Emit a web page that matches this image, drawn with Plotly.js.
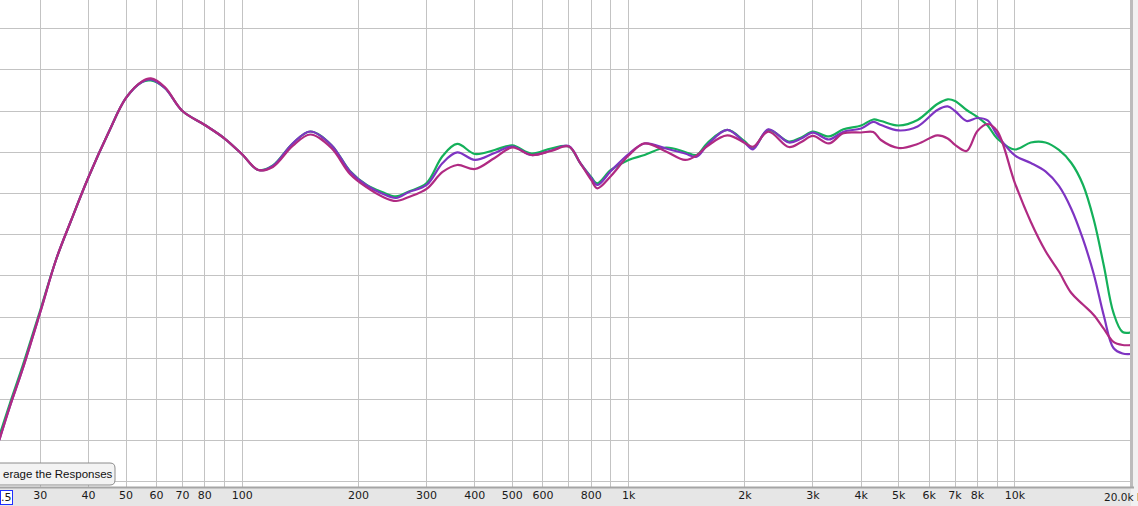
<!DOCTYPE html>
<html>
<head>
<meta charset="utf-8">
<script src="https://cdn.plot.ly/plotly-3.0.1.min.js"></script>
<style>
  html, body { margin: 0; padding: 0; background: #e6e6e6; }
  #chart { width: 1138px; height: 506px; }
</style>
</head>
<body>
<div id="chart"></div>
<script>
// Frequencies (Hz) shared by the three measured responses
const freqHz = [23.5, 25, 27, 30, 33, 36, 40, 45, 50, 55, 58, 63, 70, 80, 90, 100, 110, 120, 135, 150,
  170, 190, 210, 230, 250, 270, 300, 330, 360, 400, 450, 500, 560, 630, 700, 750, 800, 830, 900,
  1000, 1100, 1250, 1400, 1500, 1600, 1800, 2000, 2100, 2300, 2600, 2800, 3000, 3300, 3600, 4000,
  4300, 4500, 5000, 5600, 6300, 6700, 7000, 7500, 8000, 8500, 9000, 10000, 11000, 12000, 13000,
  14000, 15000, 16000, 17000, 18000, 19000, 20000];

// SPL (dB)
const greenSPL = [45.57, 49.45, 54.07, 60.86, 67.05, 71.66, 77.00, 82.34, 86.59, 88.53, 88.71, 87.80, 85.01, 83.31, 81.67, 79.73, 77.85, 78.40, 81.07, 82.52,
  80.89, 77.73, 76.03, 75.18, 74.64, 75.24, 76.27, 79.55, 81.01, 79.79, 80.28, 80.83, 79.85, 80.46, 80.70, 78.67, 77.00, 76.24, 77.85,
  79.07, 79.67, 80.58, 80.04, 79.67, 81.13, 82.71, 81.31, 80.49, 82.71, 81.31, 81.80, 82.52, 81.92, 82.79, 83.25,
  83.98, 83.80, 83.25, 83.92, 85.86, 86.43, 86.23, 85.13, 84.28, 83.25, 81.67, 80.34, 81.19, 81.19, 80.28,
  78.70, 76.09, 71.84, 66.20, 60.50, 58.19, 58.16];

const purpleSPL = [45.08, 49.09, 53.70, 60.62, 67.05, 71.66, 77.00, 82.34, 86.59, 88.53, 88.83, 87.80, 85.01, 83.31, 81.67, 79.73, 77.85, 78.34, 81.07, 82.52,
  80.89, 77.67, 75.97, 75.00, 74.45, 75.18, 76.03, 78.70, 79.98, 79.07, 79.92, 80.70, 79.67, 80.22, 80.76, 78.67, 76.88, 76.03, 77.73,
  79.79, 81.07, 80.46, 79.85, 79.47, 80.89, 82.71, 81.13, 80.36, 82.79, 81.19, 81.67, 82.38, 81.55, 82.50, 82.89,
  83.68, 83.31, 82.65, 83.13, 85.13, 85.56, 85.01, 83.80, 84.16, 83.86, 82.10, 79.61, 78.70, 77.67, 75.91,
  73.12, 69.48, 65.23, 60.13, 56.25, 55.58, 55.52];

const magentaSPL = [45.08, 49.09, 53.70, 60.62, 67.05, 71.66, 77.00, 82.34, 86.59, 88.60, 88.96, 87.92, 85.01, 83.31, 81.67, 79.73, 77.85, 78.22, 80.76, 82.16,
  80.52, 77.37, 75.73, 74.64, 74.09, 74.58, 75.55, 77.61, 78.46, 77.97, 79.31, 80.58, 79.67, 80.16, 80.70, 78.67, 76.64, 75.63, 77.12,
  79.61, 81.07, 80.10, 79.07, 79.61, 80.76, 82.04, 81.13, 80.68, 82.50, 80.64, 81.25, 81.98, 81.07, 82.31, 82.40,
  82.46, 81.49, 80.52, 81.01, 82.04, 81.67, 80.89, 80.16, 82.58, 83.43, 82.58, 76.27, 71.54, 68.02, 65.53,
  62.92, 61.53, 60.26, 58.56, 56.98, 56.61, 56.61];

// Frequency grid lines and their labels
const gridFreqs = [30, 40, 50, 60, 70, 80, 90, 100, 200, 300, 400, 500, 600, 700, 800, 900,
  1000, 2000, 3000, 4000, 5000, 6000, 7000, 8000, 9000, 10000, 20000];
const gridLabels = ['30', '40', '50', '60', '70', '80', '', '100', '200', '300', '400', '500', '600', '', '800', '',
  '1k', '2k', '3k', '4k', '5k', '6k', '7k', '8k', '', '10k', ''];

const seriesColors = ['#14b05a', '#7e34c2', '#b02a82'];
const seriesData = [greenSPL, purpleSPL, magentaSPL];

const traces = seriesData.map((vals, i) => ({
  type: 'scatter',
  mode: 'lines',
  x: freqHz,
  y: vals,
  line: { color: seriesColors[i], width: 2.2, shape: 'spline', smoothing: 1 },
  hoverinfo: 'skip'
}));

const W = 1138, H = 506, L = 0, R = 7, T = 0, B = 19;
const pw = W - L - R, ph = H - T - B;
const px = v => v / pw;              // pixel -> paper x
const py = v => (ph - v) / ph;       // pixel (from top) -> paper y

const bx0 = -0.02, bx1 = px(115), by0 = py(485), by1 = py(463), rx = px(5), ry = 5 / ph;
const buttonPath = `M ${bx0},${by1} L ${bx1 - rx},${by1} Q ${bx1},${by1} ${bx1},${by1 - ry} ` +
  `L ${bx1},${by0 + ry} Q ${bx1},${by0} ${bx1 - rx},${by0} L ${bx0},${by0} Z`;

const layout = {
  width: W, height: H,
  margin: { l: L, r: R, t: T, b: B, pad: 0 },
  paper_bgcolor: '#e6e6e6',
  plot_bgcolor: '#ffffff',
  showlegend: false,
  xaxis: {
    type: 'log',
    range: [1.3728, 4.3006],
    tickmode: 'array',
    tickvals: gridFreqs,
    ticktext: gridLabels,
    showgrid: true,
    gridcolor: '#c3c3c3',
    gridwidth: 1,
    zeroline: false,
    showline: false,
    ticks: '',
    tickfont: { family: 'DejaVu Sans', size: 11, color: '#1a1a1a' },
    automargin: false,
    fixedrange: true
  },
  yaxis: {
    range: [39.38, 98.48],
    dtick: 5,
    tick0: 0,
    showgrid: true,
    gridcolor: '#c3c3c3',
    gridwidth: 1,
    zeroline: false,
    showticklabels: false,
    ticks: '',
    automargin: false,
    fixedrange: true
  },
  shapes: [
    // right strip beyond the plot
    { type: 'rect', xref: 'paper', yref: 'paper', x0: 1, x1: 1 + px(10), y0: py(0) + 0.1, y1: py(ph + 30),
      fillcolor: '#f1f1f1', line: { width: 0 }, layer: 'below' },
    { type: 'line', xref: 'paper', yref: 'paper', x0: px(1131.5), x1: px(1131.5), y0: 0, y1: 1,
      line: { color: '#bcbcbc', width: 3 } },
    // bottom border of plot
    { type: 'line', xref: 'paper', yref: 'paper', x0: 0, x1: 1 + px(3), y0: py(487.5), y1: py(487.5),
      line: { color: '#a5a5a5', width: 2 } },
    // button
    { type: 'path', xref: 'paper', yref: 'paper', path: buttonPath,
      fillcolor: '#f3f3f3', line: { color: '#8c8c8c', width: 1 } }
  ],
  annotations: [
    { xref: 'paper', yref: 'paper', x: px(0.5), y: py(474), xanchor: 'left', yanchor: 'middle',
      text: 'erage the Responses', showarrow: false,
      font: { family: 'Liberation Sans', size: 11.5, color: '#111111' } },
    { xref: 'paper', yref: 'paper', x: px(13), y: py(497), xanchor: 'right', yanchor: 'middle',
      text: '.5', showarrow: false, bordercolor: '#1f2fff', borderwidth: 1, borderpad: 0,
      bgcolor: '#ffffff',
      font: { family: 'DejaVu Sans', size: 11, color: '#1a1a1a' } },
    { xref: 'paper', yref: 'paper', x: px(1102), y: py(497), xanchor: 'left', yanchor: 'middle',
      text: '20.0k Hz', showarrow: false,
      font: { family: 'DejaVu Sans', size: 10.5, color: '#1a1a1a' } }
  ]
};

Plotly.newPlot('chart', traces, layout, { displayModeBar: false, staticPlot: true });
</script>
</body>
</html>
